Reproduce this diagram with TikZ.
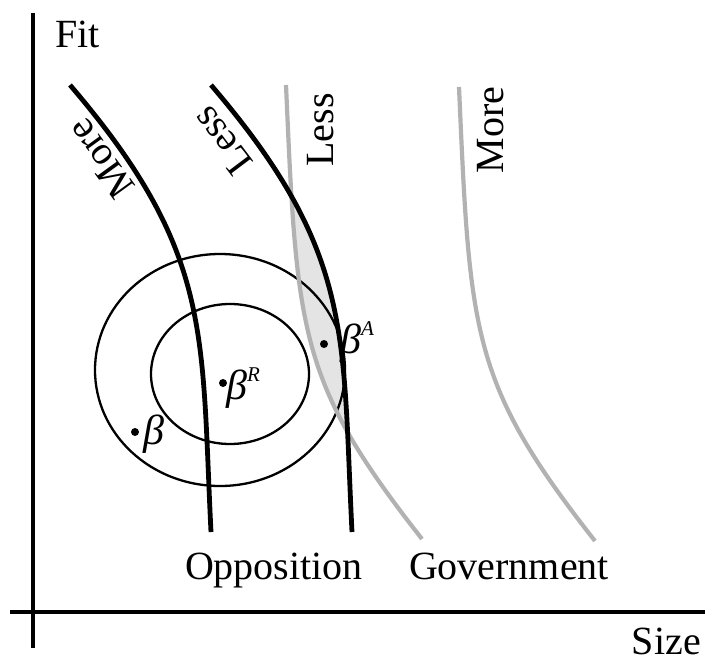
\documentclass[tikz,border=0pt]{standalone}
\usepackage{fontspec}
\setmainfont{Liberation Serif}
\begin{document}
\begin{tikzpicture}[x=1pt,y=-1pt,
  lbl/.style={inner sep=0pt,font=\fontsize{40}{44}\selectfont},
  betalbl/.style={inner sep=0pt,font=\fontsize{42}{46}\selectfont\itshape},
  blackcurve/.style={line width=4.8pt,black},
  graycurve/.style={line width=4.2pt,color=graycol},
  ring/.style={line width=2.3pt,black},
  axis/.style={line width=3.3pt,black},
  dotmark/.style={circle,fill=black,inner sep=0pt,minimum size=8pt}]
\definecolor{graycol}{RGB}{178,178,178}
\definecolor{lenscol}{RGB}{228,228,228}
\useasboundingbox (0,0) rectangle (705,659);
\def\oppcurve{(70,85) .. controls (213,252) and (201,332) .. (211,532)}
\def\govcurve{(286,85) .. controls (297,333) and (298,381) .. (422,539)}
% lens
\begin{scope}
  \clip[xshift=141pt] \oppcurve -- (-200,532) -- (-200,85) -- cycle;
  \fill[lenscol] \govcurve -- (800,539) -- (800,85) -- cycle;
\end{scope}
% circles
\draw[ring] (220,370) ellipse [x radius=125, y radius=116];
\draw[ring] (230,374) ellipse [x radius=79, y radius=70];
% government curves
\draw[graycurve] \govcurve;
\draw[graycurve,xshift=173pt,yshift=-2pt] \govcurve;
% opposition curves
\draw[blackcurve] \oppcurve;
\draw[blackcurve,xshift=141pt] \oppcurve;
% axes
\coordinate (ytop) at (33,13);
\coordinate (ybot) at (33,648);
\coordinate (xl) at (10,612);
\coordinate (xr) at (705,612);
\draw[axis] (ytop) -- (ybot);
\draw[axis] (xl) -- (xr);
% labels
\node[lbl,anchor=base west] (fit) at (55,47) {Fit};
\node[lbl,anchor=base east] (size) at (701,654) {Size};
\node[lbl,anchor=base] (opp) at (274,579) {Opposition};
\node[lbl,anchor=base] (gov) at (509,579) {Government};
\node[lbl,rotate=126] (moreopp) at (101,159) {More};
\node[lbl,rotate=127] (lessopp) at (222,141) {Less};
\node[lbl,rotate=90] (lessgov) at (321,130) {Less};
\node[lbl,rotate=90] (moregov) at (491,130) {More};
% points
\node[dotmark] (b) at (135,432) {};
\node[dotmark] (bR) at (223,383) {};
\node[dotmark] (bA) at (324,344) {};
\node[betalbl,anchor=base west] (bl) at (143,444) {β};
\node[betalbl,anchor=base west] (bRl) at (226,399) {β\raisebox{0.42em}{\fontsize{21}{24}\selectfont R}};
\node[betalbl,anchor=base west] (bAl) at (340,353) {β\raisebox{0.42em}{\fontsize{21}{24}\selectfont A}};
\end{tikzpicture}
\end{document}
